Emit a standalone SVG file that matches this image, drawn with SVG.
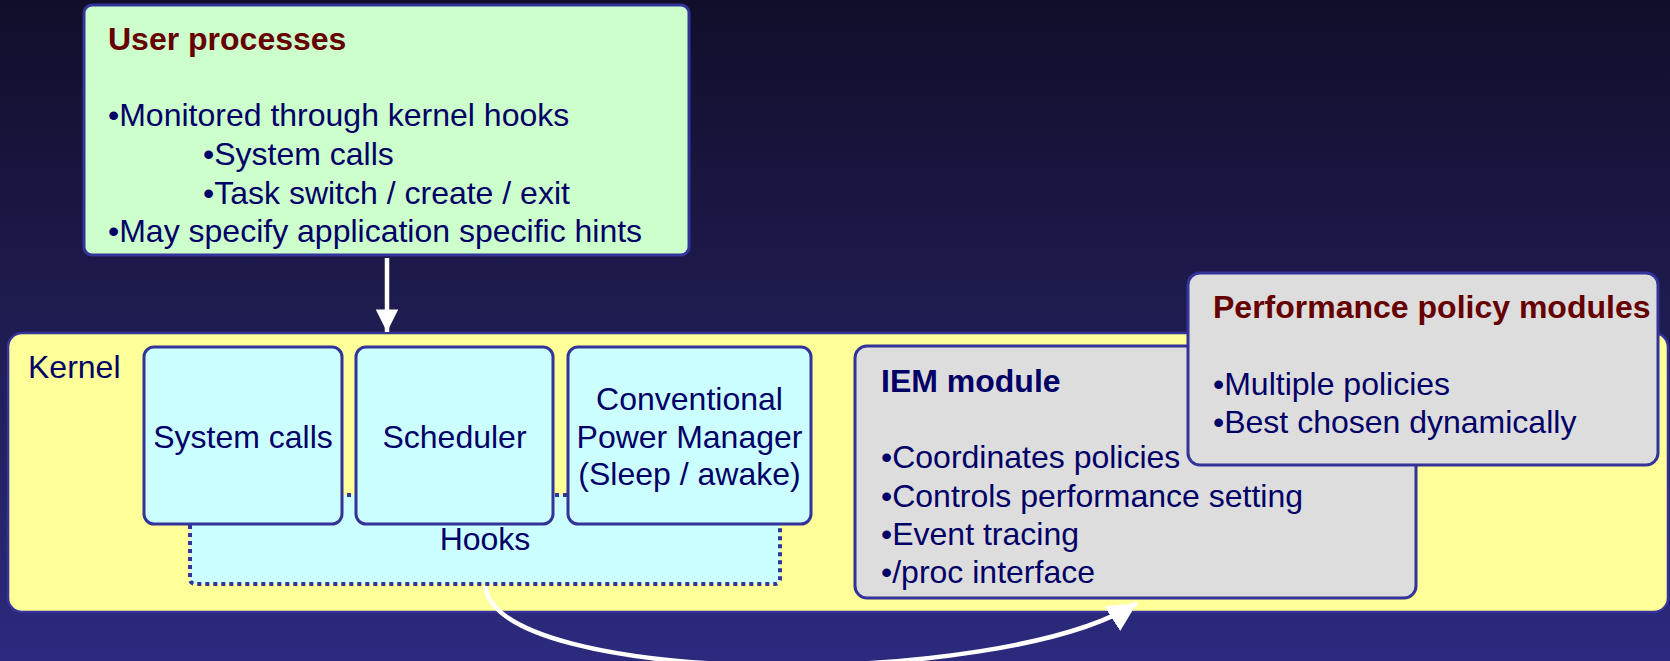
<svg xmlns="http://www.w3.org/2000/svg" width="1670" height="661" viewBox="0 0 1670 661">
  <defs>
    <linearGradient id="bg" x1="0" y1="0" x2="0" y2="1">
      <stop offset="0" stop-color="#100e29"/>
      <stop offset="0.5" stop-color="#1f1c52"/>
      <stop offset="1" stop-color="#2c2a7e"/>
    </linearGradient>
    <marker id="head" viewBox="0 0 10 10" refX="10" refY="5" markerWidth="5.5" markerHeight="5" markerUnits="strokeWidth" orient="auto">
      <path d="M0,0 L10,5 L0,10 Z" fill="#ffffff"/>
    </marker>
    <marker id="headLarge" viewBox="0 0 10 10" refX="10" refY="5" markerWidth="6.5" markerHeight="6.5" markerUnits="strokeWidth" orient="auto">
      <path d="M0,0 L10,5 L0,10 Z" fill="#ffffff"/>
    </marker>
    <style>
      text { font-family: "Liberation Sans", Arial, sans-serif; font-size: 32px; fill: #000066; }
      .title { font-weight: bold; fill: #660000; }
      .bold { font-weight: bold; }
      .mid { text-anchor: middle; }
      .box { stroke: #333399; stroke-width: 3; }
      .green { fill: #ccffcc; }
      .cyan { fill: #ccffff; }
      .grey { fill: #dddddd; }
      .kernel { fill: #ffff99; stroke: #333399; stroke-width: 2.5; }
      .hooks { fill: #ccffff; stroke: #333399; stroke-width: 4; stroke-dasharray: 4 4; }
      .link { fill: none; stroke: #ffffff; stroke-width: 4.5; }
    </style>
  </defs>

  <rect x="0" y="0" width="1670" height="661" fill="url(#bg)"/>

  <!-- kernel container -->
  <g id="kernel">
    <rect class="kernel" x="8" y="333" width="1660" height="279" rx="14"/>
    <text x="28" y="378">Kernel</text>
  </g>

  <!-- hook area shared by the kernel subsystems -->
  <g id="hooks">
    <rect class="hooks" x="190" y="495" width="590" height="89" rx="5"/>
    <text class="mid" x="485" y="550">Hooks</text>
  </g>

  <g id="syscalls">
    <rect class="box cyan" x="144" y="347" width="198" height="177" rx="10"/>
    <text class="mid" x="243" y="448">System calls</text>
  </g>

  <g id="scheduler">
    <rect class="box cyan" x="356" y="347" width="197" height="177" rx="10"/>
    <text class="mid" x="454.5" y="448">Scheduler</text>
  </g>

  <g id="powermgr">
    <rect class="box cyan" x="568" y="347" width="243" height="177" rx="10"/>
    <text class="mid" x="689.5" y="410">Conventional</text>
    <text class="mid" x="689.5" y="448">Power Manager</text>
    <text class="mid" x="689.5" y="485">(Sleep / awake)</text>
  </g>

  <g id="iem">
    <rect class="box grey" x="855" y="346" width="561" height="252" rx="12"/>
    <text class="bold" x="881" y="392">IEM module</text>
    <text x="881" y="468">•Coordinates policies</text>
    <text x="881" y="507">•Controls performance setting</text>
    <text x="881" y="545">•Event tracing</text>
    <text x="881" y="583">•/proc interface</text>
  </g>

  <g id="policies">
    <rect class="box grey" x="1188" y="273" width="470" height="192" rx="12"/>
    <text class="title" x="1213" y="318">Performance policy modules</text>
    <text x="1213" y="395">•Multiple policies</text>
    <text x="1213" y="433">•Best chosen dynamically</text>
  </g>

  <g id="user">
    <rect class="box green" x="84" y="5" width="605" height="250" rx="8"/>
    <text class="title" x="108" y="50">User processes</text>
    <text x="108" y="126">•Monitored through kernel hooks</text>
    <text x="203" y="165">•System calls</text>
    <text x="203" y="204">•Task switch / create / exit</text>
    <text x="108" y="242">•May specify application specific hints</text>
  </g>

  <!-- connectors -->
  <g id="connectors">
    <path class="link" d="M387,258 L387,332" marker-end="url(#head)"/>
    <path class="link" d="M485,586 C498,688 1000,690 1137,603" marker-end="url(#headLarge)"/>
  </g>
</svg>
